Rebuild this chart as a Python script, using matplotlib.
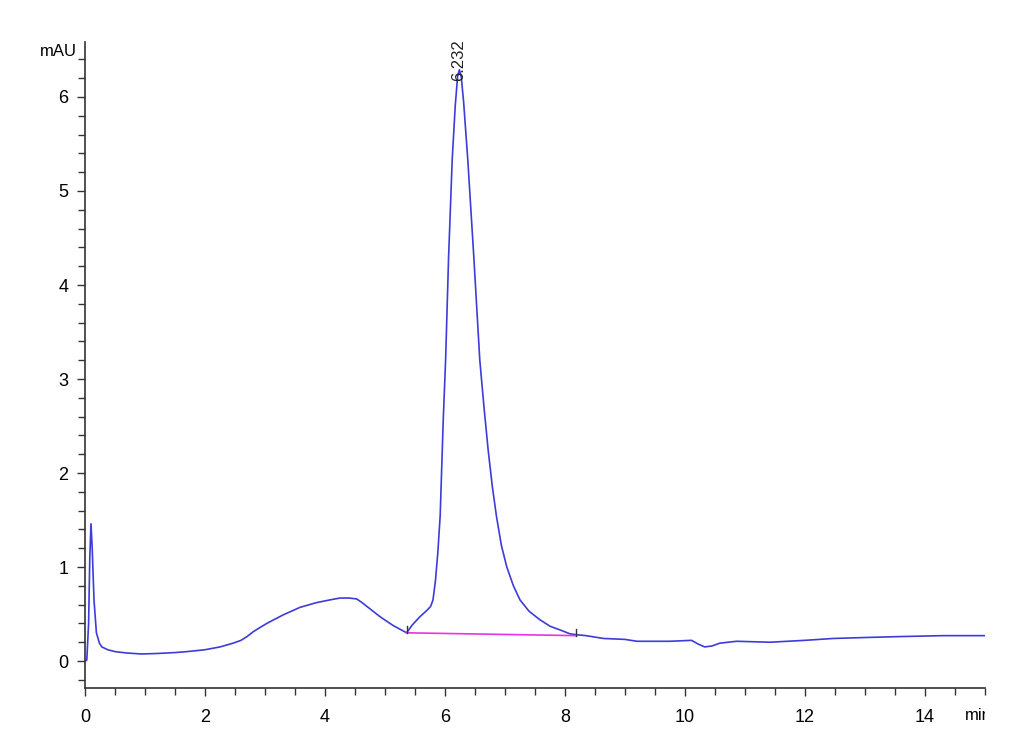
import matplotlib
matplotlib.use('Agg')
import matplotlib.pyplot as plt
from matplotlib.ticker import MultipleLocator
from matplotlib.transforms import Bbox, TransformedBbox

# chromatogram trace (time in min, signal in mAU)
time_min = [0.0, 0.03, 0.06, 0.08, 0.10, 0.12, 0.15, 0.19, 0.24, 0.28, 0.38, 0.50, 0.70, 0.94,
            1.20, 1.50, 1.70, 2.00, 2.25, 2.47, 2.60, 2.70, 2.80, 2.90, 3.03, 3.30, 3.58, 3.85,
            4.08, 4.25, 4.40, 4.53, 4.62, 4.70, 4.92, 5.13, 5.36, 5.45, 5.58, 5.70, 5.76, 5.80,
            5.84, 5.88, 5.92, 5.97, 6.01, 6.06, 6.12, 6.17, 6.21, 6.24, 6.27, 6.31, 6.38, 6.48,
            6.58, 6.65, 6.72, 6.79, 6.86, 6.94, 7.03, 7.14, 7.25, 7.40, 7.58, 7.75, 7.92, 8.08,
            8.19, 8.35, 8.64, 9.00, 9.20, 9.50, 9.75, 10.11, 10.22, 10.33, 10.45, 10.58, 10.86,
            11.42, 12.00, 12.47, 13.00, 13.58, 14.30, 15.00]
signal_mau = [0.0, 0.01, 0.40, 1.10, 1.46, 1.20, 0.65, 0.30, 0.19, 0.15, 0.12, 0.10, 0.085, 0.075,
              0.08, 0.09, 0.10, 0.12, 0.15, 0.19, 0.22, 0.26, 0.31, 0.35, 0.40, 0.49, 0.57, 0.62,
              0.65, 0.67, 0.67, 0.66, 0.62, 0.58, 0.47, 0.38, 0.30, 0.38, 0.47, 0.54, 0.58, 0.65,
              0.85, 1.15, 1.55, 2.55, 3.20, 4.30, 5.33, 5.90, 6.22, 6.29, 6.22, 5.95, 5.33, 4.30,
              3.20, 2.70, 2.24, 1.85, 1.53, 1.23, 1.00, 0.80, 0.65, 0.53, 0.44, 0.37, 0.33, 0.29,
              0.28, 0.27, 0.24, 0.23, 0.21, 0.21, 0.21, 0.22, 0.18, 0.15, 0.16, 0.19, 0.21,
              0.20, 0.22, 0.24, 0.25, 0.26, 0.27, 0.27]

# integration baseline of the main peak
base_t = [5.36, 8.19]
base_y = [0.30, 0.27]
peak_rt = 6.232
peak_top = 6.29

font = ['Liberation Sans Narrow', 'Liberation Sans', 'DejaVu Sans']
plt.rcParams['font.family'] = font

fig = plt.figure(figsize=(10.3, 7.55), dpi=100)
ax = fig.add_axes([85/1030, 1 - 688/755, 900/1030, (688 - 42)/755])

ax.plot(time_min, signal_mau, color='#3c3cd8', lw=1.2)
ax.plot(base_t, base_y, color='#e633e6', lw=1.2)
# small tick marks at integration start / end
for t, y in zip(base_t, base_y):
    ax.plot([t, t], [y, y + 0.07], color='#333333', lw=1)

ax.text(peak_rt, peak_top - 0.12, '6.232', rotation=90, ha='center', va='bottom',
        fontsize=12, color='#222222')

ax.set_xlim(0, 15)
ax.set_ylim(-0.287, 6.585)
ax.xaxis.set_major_locator(MultipleLocator(2))
ax.xaxis.set_minor_locator(MultipleLocator(0.5))
ax.yaxis.set_major_locator(MultipleLocator(1))
ax.yaxis.set_minor_locator(MultipleLocator(0.2))
ax.spines['top'].set_visible(False)
ax.spines['right'].set_visible(False)
for s in ['left', 'bottom']:
    ax.spines[s].set_color('#333333')
    ax.spines[s].set_linewidth(1.2)
ax.tick_params(which='major', length=6, width=1, color='#333333', labelsize=13, pad=6)
ax.tick_params(which='minor', length=5, width=1, color='#333333')
ax.tick_params(axis='x', which='major', pad=9)

fig.text(58/1030, 1 - 52/755, 'mAU', ha='center', va='center', fontsize=12)
lbl = fig.text(965/1030, 1 - 715/755, 'min', ha='left', va='center', fontsize=12)
lbl.set_clip_box(TransformedBbox(Bbox([[0, 0], [985/1030, 1]]), fig.transFigure))
lbl.set_clip_on(True)

fig.savefig('out.png', dpi=100)
